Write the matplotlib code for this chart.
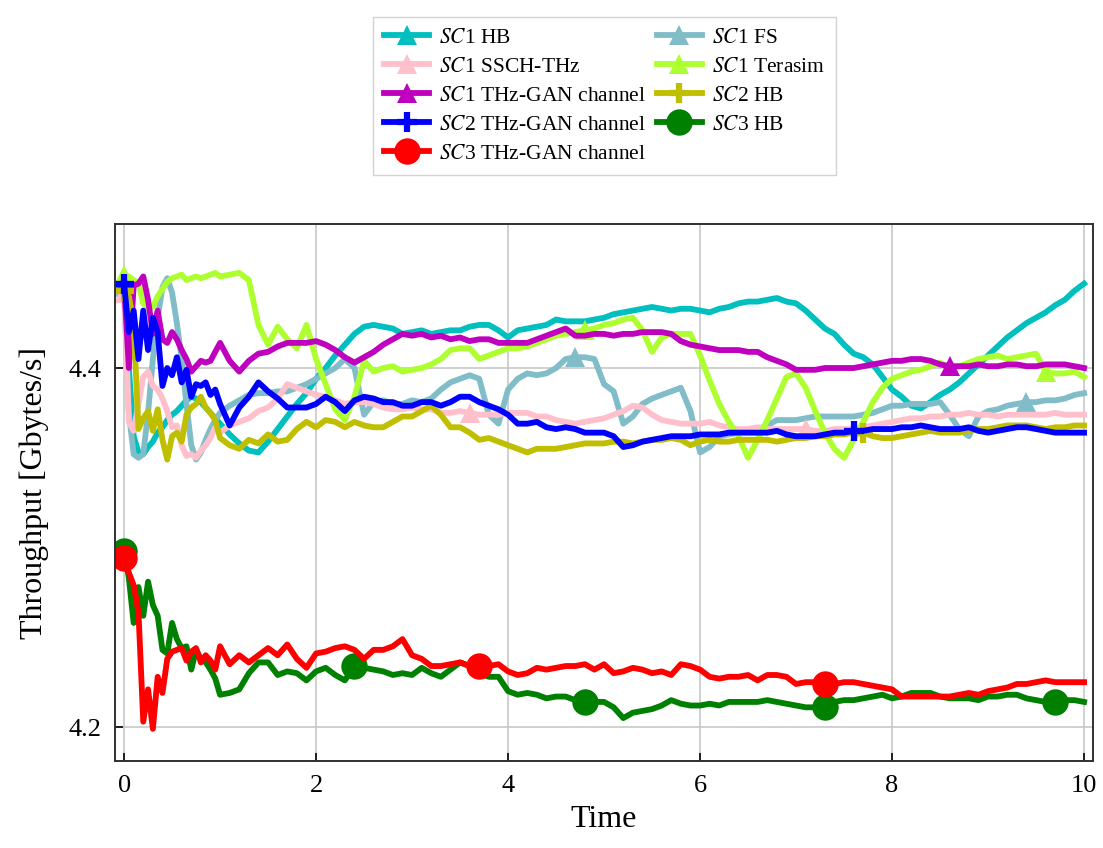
import numpy as np
import matplotlib
matplotlib.use("Agg")
import matplotlib.pyplot as plt

plt.rcParams['font.family'] = ['Liberation Serif', 'DejaVu Serif']
plt.rcParams['mathtext.fontset'] = 'stix'

# sample times: finer steps during the start-up transient
t = np.round(np.concatenate([np.linspace(0, 0.95, 20), np.linspace(1.0, 10.0, 91)]), 2)

sc1_hb = [4.450, 4.400, 4.362, 4.353, 4.352, 4.356, 4.359, 4.364, 4.367, 4.371,
          4.374, 4.376, 4.379, 4.382, 4.384, 4.383, 4.381, 4.378, 4.375, 4.372,
          4.369, 4.363, 4.358, 4.354, 4.353, 4.359, 4.366, 4.373, 4.380, 4.386,
          4.394, 4.400, 4.407, 4.413, 4.419, 4.423, 4.424, 4.423, 4.422, 4.419,
          4.420, 4.421, 4.419, 4.420, 4.421, 4.421, 4.423, 4.424, 4.424, 4.421,
          4.417, 4.421, 4.422, 4.423, 4.424, 4.427, 4.426, 4.426, 4.426, 4.427,
          4.428, 4.430, 4.431, 4.432, 4.433, 4.434, 4.433, 4.432, 4.433, 4.433,
          4.432, 4.431, 4.433, 4.434, 4.436, 4.437, 4.437, 4.438, 4.439, 4.437,
          4.436, 4.432, 4.427, 4.422, 4.419, 4.413, 4.408, 4.406, 4.402, 4.395,
          4.388, 4.384, 4.379, 4.3775, 4.381, 4.385, 4.388, 4.392, 4.397, 4.402,
          4.407, 4.412, 4.417, 4.421, 4.425, 4.428, 4.431, 4.435, 4.438, 4.443, 4.447]

sc1_fs = [4.445, 4.375, 4.352, 4.350, 4.352, 4.375, 4.405, 4.428, 4.445, 4.450,
          4.442, 4.425, 4.405, 4.380, 4.357, 4.349, 4.353, 4.360, 4.366, 4.371,
          4.375, 4.379, 4.382, 4.385, 4.386, 4.386, 4.387, 4.387, 4.389, 4.391,
          4.394, 4.397, 4.400, 4.405, 4.400, 4.374, 4.381, 4.382, 4.380, 4.380,
          4.382, 4.381, 4.383, 4.388, 4.392, 4.394, 4.396, 4.394, 4.374, 4.369,
          4.388, 4.394, 4.397, 4.396, 4.397, 4.400, 4.405, 4.406, 4.406, 4.405,
          4.391, 4.387, 4.369, 4.373, 4.380, 4.383, 4.385, 4.387, 4.389, 4.376,
          4.353, 4.356, 4.362, 4.363, 4.364, 4.365, 4.366, 4.368, 4.371, 4.371,
          4.371, 4.372, 4.373, 4.373, 4.373, 4.373, 4.373, 4.374, 4.375, 4.377,
          4.379, 4.379, 4.380, 4.380, 4.380, 4.381, 4.374, 4.366, 4.362, 4.373,
          4.376, 4.377, 4.379, 4.380, 4.381, 4.381, 4.382, 4.382, 4.383, 4.385, 4.386]

sc1_ssch = [4.442, 4.370, 4.365, 4.380, 4.395, 4.398, 4.390, 4.388, 4.383, 4.376,
            4.367, 4.368, 4.357, 4.351, 4.352, 4.350, 4.354, 4.357, 4.361, 4.367,
            4.364, 4.368, 4.370, 4.372, 4.376, 4.378, 4.383, 4.391, 4.389, 4.387,
            4.385, 4.384, 4.382, 4.380, 4.381, 4.381, 4.380, 4.378, 4.377, 4.377,
            4.378, 4.377, 4.377, 4.375, 4.375, 4.376, 4.375, 4.374, 4.374, 4.374,
            4.375, 4.375, 4.375, 4.373, 4.373, 4.371, 4.370, 4.369, 4.370, 4.371,
            4.372, 4.374, 4.376, 4.379, 4.378, 4.374, 4.371, 4.370, 4.369, 4.369,
            4.369, 4.370, 4.368, 4.367, 4.366, 4.366, 4.367, 4.366, 4.366, 4.366,
            4.366, 4.366, 4.365, 4.365, 4.366, 4.366, 4.366, 4.367, 4.368, 4.369,
            4.370, 4.371, 4.372, 4.372, 4.373, 4.373, 4.374, 4.374, 4.375, 4.374,
            4.374, 4.373, 4.374, 4.374, 4.374, 4.374, 4.374, 4.375, 4.374, 4.374, 4.374]

sc1_terasim = [4.452, 4.451, 4.449, 4.447, 4.436, 4.434, 4.434, 4.440, 4.444, 4.448,
               4.450, 4.451, 4.452, 4.449, 4.450, 4.451, 4.450, 4.451, 4.452, 4.453,
               4.451, 4.452, 4.453, 4.449, 4.424, 4.413, 4.423, 4.416, 4.411, 4.424,
               4.405, 4.391, 4.377, 4.371, 4.384, 4.404, 4.398, 4.400, 4.401, 4.398,
               4.399, 4.400, 4.402, 4.405, 4.410, 4.411, 4.411, 4.405, 4.407, 4.409,
               4.411, 4.411, 4.412, 4.414, 4.416, 4.418, 4.419, 4.420, 4.421, 4.422,
               4.424, 4.425, 4.427, 4.428, 4.421, 4.409, 4.417, 4.419, 4.419, 4.419,
               4.407, 4.393, 4.380, 4.370, 4.362, 4.350, 4.360, 4.371, 4.383, 4.395,
               4.397, 4.389, 4.376, 4.364, 4.355, 4.350, 4.360, 4.370, 4.381, 4.389,
               4.394, 4.396, 4.398, 4.399, 4.401, 4.403, 4.400, 4.401, 4.403, 4.405,
               4.406, 4.407, 4.405, 4.406, 4.407, 4.408, 4.398, 4.397, 4.397, 4.398, 4.395]

sc1_thzgan = [4.447, 4.400, 4.446, 4.447, 4.451, 4.438, 4.419, 4.432, 4.416, 4.414,
              4.420, 4.416, 4.410, 4.405, 4.398, 4.401, 4.404, 4.403, 4.404, 4.409,
              4.414, 4.404, 4.398, 4.404, 4.408, 4.409, 4.412, 4.414, 4.414, 4.414,
              4.415, 4.413, 4.410, 4.406, 4.403, 4.406, 4.409, 4.413, 4.416, 4.419,
              4.418, 4.419, 4.417, 4.418, 4.416, 4.417, 4.415, 4.416, 4.416, 4.414,
              4.414, 4.414, 4.414, 4.416, 4.418, 4.420, 4.422, 4.418, 4.418, 4.419,
              4.419, 4.418, 4.419, 4.419, 4.420, 4.420, 4.420, 4.419, 4.415, 4.413,
              4.412, 4.411, 4.410, 4.410, 4.410, 4.409, 4.409, 4.406, 4.404, 4.402,
              4.399, 4.399, 4.399, 4.400, 4.400, 4.400, 4.400, 4.401, 4.402, 4.403,
              4.404, 4.404, 4.405, 4.405, 4.404, 4.402, 4.401, 4.401, 4.401, 4.402,
              4.401, 4.401, 4.402, 4.402, 4.401, 4.401, 4.402, 4.402, 4.402, 4.401, 4.400]

sc2_hb = [4.443, 4.440, 4.425, 4.366, 4.372, 4.376, 4.365, 4.377, 4.360, 4.349,
          4.362, 4.364, 4.359, 4.374, 4.378, 4.380, 4.384, 4.378, 4.375, 4.371,
          4.361, 4.357, 4.355, 4.360, 4.358, 4.363, 4.359, 4.360, 4.366, 4.370,
          4.367, 4.371, 4.370, 4.367, 4.370, 4.368, 4.367, 4.367, 4.370, 4.373,
          4.373, 4.376, 4.379, 4.374, 4.367, 4.367, 4.364, 4.360, 4.361, 4.359,
          4.357, 4.355, 4.353, 4.355, 4.355, 4.355, 4.356, 4.357, 4.358, 4.358,
          4.358, 4.359, 4.359, 4.358, 4.359, 4.360, 4.360, 4.361, 4.360, 4.357,
          4.359, 4.360, 4.359, 4.359, 4.360, 4.360, 4.360, 4.360, 4.359, 4.360,
          4.361, 4.361, 4.362, 4.362, 4.363, 4.363, 4.364, 4.364, 4.362, 4.361,
          4.361, 4.362, 4.363, 4.364, 4.365, 4.364, 4.364, 4.364, 4.365, 4.366,
          4.366, 4.367, 4.368, 4.368, 4.368, 4.367, 4.366, 4.367, 4.367, 4.368, 4.368]

sc2_thzgan = [4.447, 4.420, 4.432, 4.405, 4.432, 4.410, 4.428, 4.420, 4.390, 4.400,
              4.396, 4.406, 4.392, 4.399, 4.384, 4.391, 4.390, 4.392, 4.385, 4.388,
              4.380, 4.368, 4.378, 4.384, 4.392, 4.387, 4.383, 4.378, 4.378, 4.378,
              4.380, 4.384, 4.381, 4.376, 4.382, 4.384, 4.383, 4.381, 4.381, 4.379,
              4.379, 4.381, 4.381, 4.379, 4.381, 4.384, 4.384, 4.381, 4.379, 4.377,
              4.374, 4.369, 4.369, 4.370, 4.367, 4.366, 4.367, 4.366, 4.364, 4.364,
              4.364, 4.362, 4.356, 4.357, 4.359, 4.360, 4.361, 4.362, 4.362, 4.362,
              4.363, 4.363, 4.363, 4.364, 4.364, 4.364, 4.364, 4.364, 4.365, 4.363,
              4.362, 4.362, 4.362, 4.363, 4.364, 4.364, 4.365, 4.365, 4.366, 4.366,
              4.366, 4.367, 4.367, 4.368, 4.367, 4.366, 4.366, 4.366, 4.367, 4.365,
              4.364, 4.365, 4.366, 4.367, 4.367, 4.366, 4.365, 4.364, 4.364, 4.364, 4.364]

sc3_hb = [4.298, 4.283, 4.258, 4.278, 4.262, 4.281, 4.268, 4.262, 4.243, 4.241,
          4.258, 4.249, 4.244, 4.245, 4.232, 4.243, 4.238, 4.236, 4.232, 4.227,
          4.218, 4.219, 4.221, 4.230, 4.236, 4.236, 4.229, 4.231, 4.230, 4.226,
          4.231, 4.233, 4.229, 4.226, 4.234, 4.233, 4.232, 4.231, 4.229, 4.230,
          4.229, 4.233, 4.230, 4.228, 4.232, 4.236, 4.234, 4.230, 4.228, 4.228,
          4.220, 4.218, 4.219, 4.218, 4.216, 4.217, 4.217, 4.215, 4.214, 4.214,
          4.214, 4.211, 4.205, 4.208, 4.209, 4.210, 4.212, 4.215, 4.213, 4.212,
          4.212, 4.213, 4.212, 4.214, 4.214, 4.214, 4.214, 4.215, 4.214, 4.213,
          4.212, 4.211, 4.211, 4.211, 4.214, 4.215, 4.215, 4.216, 4.217, 4.218,
          4.216, 4.217, 4.219, 4.219, 4.219, 4.217, 4.216, 4.216, 4.216, 4.215,
          4.217, 4.217, 4.218, 4.218, 4.216, 4.215, 4.214, 4.214, 4.215, 4.215, 4.214]

sc3_thzgan = [4.294, 4.286, 4.279, 4.264, 4.203, 4.221, 4.199, 4.228, 4.219, 4.238,
              4.242, 4.243, 4.244, 4.237, 4.242, 4.244, 4.236, 4.240, 4.237, 4.232,
              4.245, 4.235, 4.240, 4.236, 4.240, 4.244, 4.240, 4.246, 4.238, 4.233,
              4.241, 4.242, 4.244, 4.245, 4.243, 4.238, 4.243, 4.243, 4.245, 4.249,
              4.240, 4.238, 4.234, 4.234, 4.235, 4.236, 4.234, 4.234, 4.234, 4.235,
              4.231, 4.229, 4.230, 4.233, 4.232, 4.233, 4.234, 4.234, 4.235, 4.232,
              4.235, 4.230, 4.231, 4.233, 4.232, 4.230, 4.231, 4.229, 4.235, 4.234,
              4.232, 4.228, 4.227, 4.228, 4.228, 4.229, 4.226, 4.229, 4.229, 4.228,
              4.224, 4.225, 4.225, 4.224, 4.224, 4.225, 4.225, 4.224, 4.223, 4.222,
              4.221, 4.217, 4.217, 4.217, 4.217, 4.217, 4.217, 4.218, 4.219, 4.218,
              4.220, 4.221, 4.222, 4.224, 4.224, 4.225, 4.226, 4.225, 4.225, 4.225, 4.225]

# (label, values, colour, marker, times where a marker is drawn)
series = [
    (r'$SC$1 HB',             sc1_hb,      '#00bfbf', '^', [0]),
    (r'$SC$1 FS',             sc1_fs,      '#80bdc8', '^', [0, 4.7, 9.4]),
    (r'$SC$1 SSCH-THz',       sc1_ssch,    '#ffc0cb', '^', [0, 3.6, 7.1]),
    (r'$SC$1 Terasim',        sc1_terasim, '#adff2f', '^', [0, 4.8, 9.6]),
    (r'$SC$1 THz-GAN channel', sc1_thzgan, '#bf00bf', '^', [0, 8.6]),
    (r'$SC$2 HB',             sc2_hb,      '#bfbf00', '+', [0, 7.7]),
    (r'$SC$2 THz-GAN channel', sc2_thzgan, '#0000ff', '+', [0, 7.6]),
    (r'$SC$3 HB',             sc3_hb,      '#008000', 'o', [0, 2.4, 4.8, 7.3, 9.7]),
    (r'$SC$3 THz-GAN channel', sc3_thzgan, '#ff0000', 'o', [0, 3.7, 7.3]),
]

fig = plt.figure(figsize=(11.03, 8.48), dpi=100)
ax = fig.add_axes([0.1043, 0.1026, 0.8867, 0.6332])

handles = []
for label, vals, col, mk, marks in series:
    assert len(vals) == len(t)
    idx = [int(np.argmin(np.abs(t - m))) for m in marks]
    if mk == 'o':
        ms, mew = 19, 0
    elif mk == '+':
        ms, mew = 15, 4.5
    else:
        ms, mew = 14, 0
    h, = ax.plot(t, vals, color=col, lw=4.2, marker=mk, markevery=idx,
                 markersize=ms, markeredgewidth=mew, markeredgecolor=col,
                 markerfacecolor=col, label=label)
    handles.append(h)

ax.set_xlim(-0.094, 10.094)
ax.set_ylim(4.1811, 4.4802)
ax.set_xticks([0, 2, 4, 6, 8, 10])
ax.set_yticks([4.2, 4.4])
ax.grid(True, color='#c4c4c4', lw=1.1)
ax.set_axisbelow(True)
ax.tick_params(direction='in', length=6, width=1.2, labelsize=19, pad=10)
for sp in ax.spines.values():
    sp.set_color('#303030')
    sp.set_linewidth(1.4)

ax.set_xlabel('Time', fontsize=23, labelpad=6)
ax.set_ylabel('Throughput [Gbytes/s]', fontsize=23, labelpad=14)

# two columns filled row by row
order = [0, 2, 4, 6, 8, 1, 3, 5, 7]
leg = fig.legend([handles[i] for i in order], [series[i][0] for i in order],
                 loc='upper center', bbox_to_anchor=(0.548, 0.993), ncol=2,
                 fontsize=15.5, frameon=True, fancybox=False, edgecolor='#c8c8c8',
                 handlelength=2.1, handletextpad=0.45, columnspacing=0.5,
                 labelspacing=0.42, borderpad=0.5, numpoints=1)
leg.get_frame().set_linewidth(1.0)

fig.savefig('out.png', dpi=100)
